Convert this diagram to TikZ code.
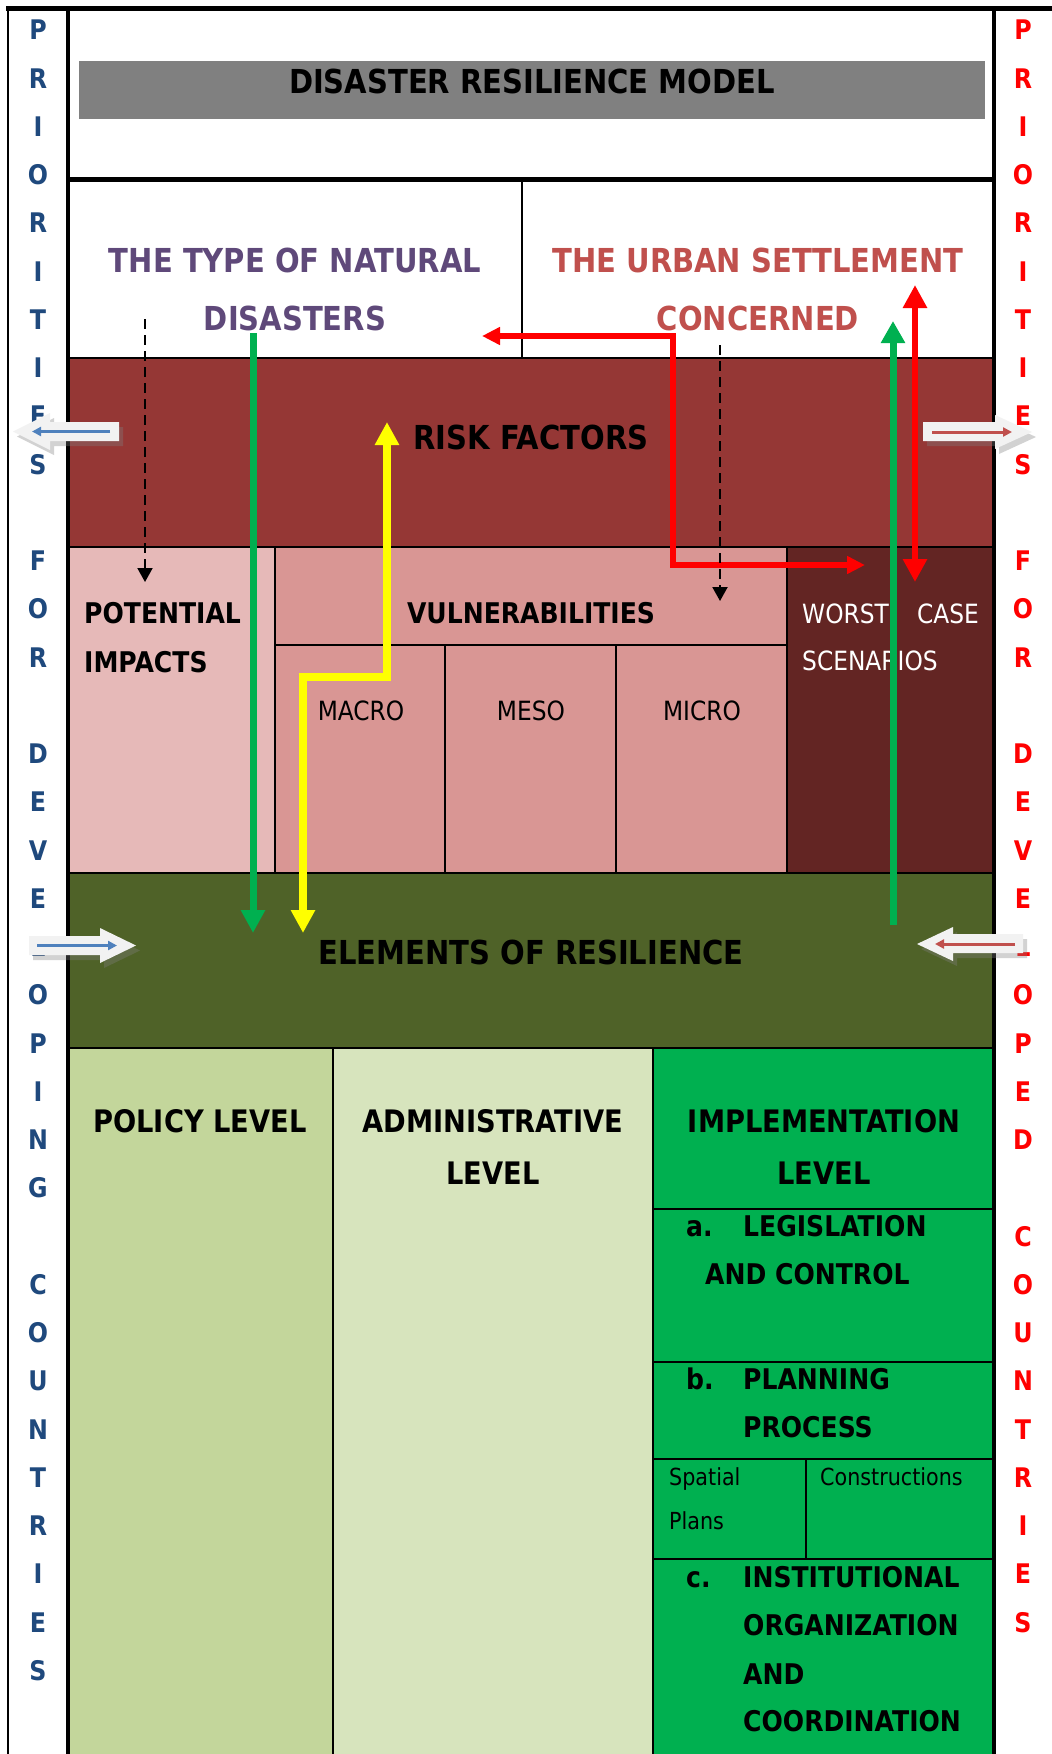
\documentclass[tikz,border=0pt]{standalone}
\usepackage{fontspec}
\setmainfont{DejaVu Sans}
\newfontfamily\tah[FakeStretch=0.88]{DejaVu Sans}
\usetikzlibrary{arrows.meta,shadows}
\definecolor{titlegray}{HTML}{808080}
\definecolor{leftblue}{HTML}{1F497D}
\definecolor{rightred}{HTML}{FF0000}
\definecolor{natpurple}{HTML}{5F497A}
\definecolor{urbanred}{HTML}{C0504D}
\definecolor{riskred}{HTML}{953735}
\definecolor{impactpink}{HTML}{E6B9B8}
\definecolor{vulnpink}{HTML}{D99694}
\definecolor{worstred}{HTML}{632523}
\definecolor{elemgreen}{HTML}{4F6228}
\definecolor{policygreen}{HTML}{C3D69B}
\definecolor{admingreen}{HTML}{D7E4BD}
\definecolor{implgreen}{HTML}{00B050}
\definecolor{flowyellow}{HTML}{FFFF00}
\definecolor{innerblue}{HTML}{4F81BD}
\definecolor{innerred}{HTML}{C0504D}
\definecolor{arrowwhite}{HTML}{F2F2F2}
\begin{document}
\begin{tikzpicture}[x=1pt, y=-1pt,
        cell/.style={draw=black, line width=2pt},
        heading/.style={font=\tah\bfseries\fontsize{33}{40}\selectfont, inner sep=0pt, anchor=base},
        midlabel/.style={font=\tah\bfseries\fontsize{28.5}{34}\selectfont, inner sep=0pt, anchor=base west},
        levellabel/.style={font=\tah\bfseries\fontsize{31}{36}\selectfont, inner sep=0pt, anchor=base},
        plainlabel/.style={font=\tah\fontsize{26.5}{30}\selectfont, inner sep=0pt, anchor=base},
        smalllabel/.style={font=\tah\fontsize{23.5}{28}\selectfont, inner sep=0pt, anchor=base west},
        sideletter/.style={font=\tah\bfseries\fontsize{27}{30}\selectfont, inner sep=0pt, anchor=base},
        blockarrow/.style={fill=arrowwhite, drop shadow={shadow xshift=4pt, shadow yshift=-5pt, opacity=0.35}},
        flow/.style={line width=7pt},
        bighead/.style={-{Triangle[width=23pt,length=23pt]}},
        bothheads/.style={{Triangle[width=23pt,length=23pt]}-{Triangle[width=23pt,length=23pt]}}]

        \useasboundingbox (0,0) rectangle (1052,1754);
        \clip (0,0) rectangle (1052,1754);
        \fill[white] (0,0) rectangle (1052,1754);

        % Title
        \fill[titlegray] (79,61) rectangle (985,119);
        \node[heading] (title) at (532,93) {DISASTER RESILIENCE MODEL};

        % Hazard and settlement
        \draw[line width=1.5pt] (522,179) -- (522,358);
        \node[heading, text=natpurple] (hazard) at (295,272) {THE TYPE OF NATURAL};
        \node[heading, text=natpurple] (hazard2) at (295,330) {DISASTERS};
        \node[heading, text=urbanred] (urban) at (758,272) {THE URBAN SETTLEMENT};
        \node[heading, text=urbanred] (urban2) at (758,330) {CONCERNED};

        % Risk factors
        \filldraw[cell, fill=riskred] (68,358) rectangle (994,547);
        \node[heading] (risk) at (531,449) {RISK FACTORS};

        % Impacts, vulnerabilities, scenarios
        \filldraw[cell, fill=impactpink] (68,547) rectangle (275,873);
        \filldraw[cell, fill=vulnpink] (275,547) rectangle (787,645);
        \filldraw[cell, fill=vulnpink] (275,645) rectangle (445,873);
        \filldraw[cell, fill=vulnpink] (445,645) rectangle (616,873);
        \filldraw[cell, fill=vulnpink] (616,645) rectangle (787,873);
        \filldraw[cell, fill=worstred] (787,547) rectangle (994,873);
        \node[midlabel] (impacts) at (84,623) {POTENTIAL};
        \node[midlabel] (impacts2) at (84,672) {IMPACTS};
        \node[midlabel, anchor=base] (vuln) at (531,623) {VULNERABILITIES};
        \node[plainlabel] (macro) at (361,720) {MACRO};
        \node[plainlabel] (meso) at (531,720) {MESO};
        \node[plainlabel] (micro) at (702,720) {MICRO};
        \node[plainlabel, anchor=base west, text=white] (worst) at (802,623) {WORST};
        \node[plainlabel, anchor=base east, text=white] (worstcase) at (979,623) {CASE};
        \node[plainlabel, anchor=base west, text=white] (worst2) at (802,670) {SCENARIOS};

        % Elements of resilience
        \filldraw[cell, fill=elemgreen] (68,873) rectangle (994,1048);
        \node[heading] (elements) at (531,964) {ELEMENTS OF RESILIENCE};

        % Levels
        \filldraw[cell, fill=policygreen] (68,1048) rectangle (333,1800);
        \filldraw[cell, fill=admingreen] (333,1048) rectangle (653,1800);
        \filldraw[cell, fill=implgreen] (653,1048) rectangle (994,1800);
        \draw[cell] (653,1208.5) -- (994,1208.5);
        \draw[cell] (653,1362) -- (994,1362);
        \draw[cell] (653,1458.5) -- (994,1458.5);
        \draw[cell] (653,1559) -- (994,1559);
        \draw[cell] (806,1458.5) -- (806,1559);
        \node[levellabel] (policy) at (200,1132) {POLICY LEVEL};
        \node[levellabel] (admin) at (493,1132) {ADMINISTRATIVE};
        \node[levellabel] (admin2) at (493,1184) {LEVEL};
        \node[levellabel] (impl) at (824,1132) {IMPLEMENTATION};
        \node[levellabel] (impl2) at (824,1184) {LEVEL};
        \node[midlabel] (itema) at (686,1236) {a.};
        \node[midlabel] (legis) at (743,1236) {LEGISLATION};
        \node[midlabel] (legis2) at (705,1284) {AND CONTROL};
        \node[midlabel] (itemb) at (686,1389.5) {b.};
        \node[midlabel] (plan) at (743,1389.5) {PLANNING};
        \node[midlabel] (plan2) at (743,1437) {PROCESS};
        \node[smalllabel] (spatial) at (669,1485.5) {Spatial};
        \node[smalllabel] (spatial2) at (669,1529.5) {Plans};
        \node[smalllabel] (constr) at (820,1485.5) {Constructions};
        \node[midlabel] (itemc) at (686,1587) {c.};
        \node[midlabel] (inst) at (743,1587) {INSTITUTIONAL};
        \node[midlabel] (inst2) at (743,1635) {ORGANIZATION};
        \node[midlabel] (inst3) at (743,1684) {AND};
        \node[midlabel] (inst4) at (743,1731) {COORDINATION};

        % Frame
        \draw[line width=4.5pt] (68,9) rectangle (994,1800);
        \draw[line width=5pt] (68,179) -- (994,179);
        \draw[line width=5pt] (6,8.5) -- (1052,8.5);
        \draw[line width=1.5pt] (8,8) -- (8,1754);

        % Side columns
        \foreach \l [count=\i from 0] in {P,R,I,O,R,I,T,I,E,S,-,F,O,R,-,D,E,V,E,L,O,P,I,N,G,-,C,O,U,N,T,R,I,E,S}
            {\if\l-\else\node[sideletter, text=leftblue] (lp\i) at (38,{39.9+48.25*\i}) {\l};\fi}
        \foreach \l [count=\i from 0] in {P,R,I,O,R,I,T,I,E,S,-,F,O,R,-,D,E,V,E,L,O,P,E,D,-,C,O,U,N,T,R,I,E,S}
            {\if\l-\else\node[sideletter, text=rightred] (rp\i) at (1023,{39.9+48.25*\i}) {\l};\fi}

        % Block arrows
        \fill[blockarrow] (13,431.5) -- (50,413) -- (50,422) -- (119,422) -- (119,441) -- (50,441) -- (50,450) -- cycle;
        \draw[line width=3pt, innerblue, -{Triangle[width=9pt,length=9pt]}] (110,431.5) -- (32,431.5);
        \fill[blockarrow] (923,422) -- (995,422) -- (995,415) -- (1032,432) -- (995,449) -- (995,441) -- (923,441) -- cycle;
        \draw[line width=3pt, innerred, -{Triangle[width=9pt,length=9pt]}] (932,432) -- (1012,432);
        \fill[blockarrow] (29,936) -- (100,936) -- (100,928) -- (136,945.5) -- (100,963) -- (100,955) -- (29,955) -- cycle;
        \draw[line width=3pt, innerblue, -{Triangle[width=9pt,length=9pt]}] (37,945.5) -- (117,945.5);
        \fill[blockarrow] (917,944) -- (953,927) -- (953,934) -- (1023,934) -- (1023,953) -- (953,953) -- (953,961) -- cycle;
        \draw[line width=3pt, innerred, -{Triangle[width=9pt,length=9pt]}] (1015,944) -- (935,944);

        % Flows
        \coordinate (hazardtop) at (253,333);
        \coordinate (hazardend) at (253,933);
        \coordinate (yellowtop) at (387,422);
        \coordinate (yellowend) at (303,933);
        \coordinate (redstart) at (482,336);
        \coordinate (redbend) at (673,336);
        \coordinate (redend) at (865,565);
        \coordinate (scentop) at (915,285);
        \coordinate (scenend) at (915,582);
        \coordinate (resstart) at (893,925);
        \coordinate (restop) at (893,321);
        \coordinate (dashlefttop) at (145,319);
        \coordinate (dashleftend) at (145,582);
        \coordinate (dashrighttop) at (720,345);
        \coordinate (dashrightend) at (720,601);

        \draw[flow, implgreen, bighead] (hazardtop) -- (hazardend);
        \draw[flow, flowyellow, line width=7.5pt, bothheads] (yellowtop) -- ++(0,255) -| (yellowend);
        \draw[flow, red, line width=6.5pt, {Triangle[width=17pt,length=18pt]}-{Triangle[width=17pt,length=18pt]}] (redstart) -- (redbend) |- (redend);
        \draw[flow, red, line width=6.5pt, bothheads] (scentop) -- (scenend);
        \draw[flow, implgreen, -{Triangle[width=23pt,length=22pt]}] (resstart) -- (restop);
        \draw[line width=2pt, dash pattern=on 10pt off 6pt, -{Triangle[width=15pt,length=14pt]}] (dashlefttop) -- (dashleftend);
        \draw[line width=2pt, dash pattern=on 10pt off 6pt, -{Triangle[width=15pt,length=14pt]}] (dashrighttop) -- (dashrightend);

    \end{tikzpicture}
\end{document}
